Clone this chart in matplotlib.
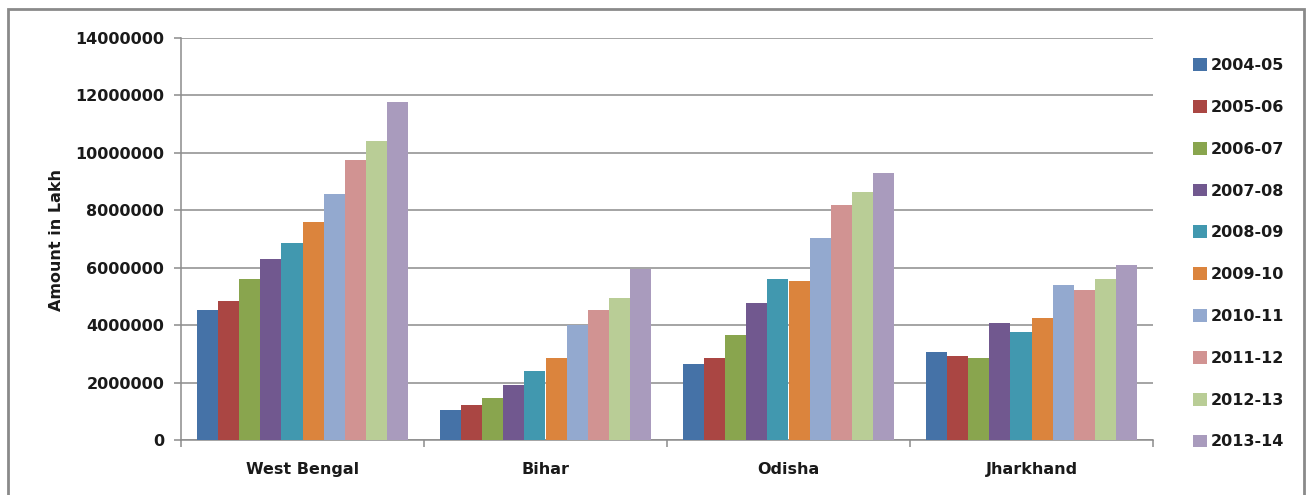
import matplotlib.pyplot as plt
from matplotlib.patches import Rectangle, Patch
import numpy as np

states = ["West Bengal", "Bihar", "Odisha", "Jharkhand"]
years = ["2004-05", "2005-06", "2006-07", "2007-08", "2008-09",
         "2009-10", "2010-11", "2011-12", "2012-13", "2013-14"]

# amount in lakh, one list per year: [West Bengal, Bihar, Odisha, Jharkhand]
y2004_05 = [4520000, 1040000, 2650000, 3080000]
y2005_06 = [4830000, 1220000, 2870000, 2910000]
y2006_07 = [5620000, 1480000, 3670000, 2850000]
y2007_08 = [6290000, 1930000, 4780000, 4070000]
y2008_09 = [6870000, 2410000, 5590000, 3760000]
y2009_10 = [7580000, 2870000, 5540000, 4260000]
y2010_11 = [8570000, 4010000, 7020000, 5410000]
y2011_12 = [9740000, 4510000, 8180000, 5230000]
y2012_13 = [10400000, 4950000, 8620000, 5590000]
y2013_14 = [11780000, 5960000, 9300000, 6080000]

series = [y2004_05, y2005_06, y2006_07, y2007_08, y2008_09,
          y2009_10, y2010_11, y2011_12, y2012_13, y2013_14]

colors = ["#4572A7", "#AA4643", "#89A54E", "#71588F", "#4198AF",
          "#DB843D", "#93A9CF", "#D19392", "#B9CD96", "#A99BBD"]

W, H = 1308, 495
fig = plt.figure(figsize=(W / 100, H / 100), dpi=100)
ax = fig.add_axes([181 / W, 1 - 440 / H, (1153 - 181) / W, (440 - 38) / H])

txt = "#1a1a1a"
grid_c = "#8c8c8c"
fs = 11.5

x = np.arange(len(states))
bw = 1 / 11.5
for i, vals in enumerate(series):
    ax.bar(x + (i - 4.5) * bw, vals, width=bw, color=colors[i], zorder=3,
           edgecolor="none")

ax.set_xlim(-0.5, len(states) - 0.5)
ax.set_ylim(0, 14000000)
ax.set_yticks(np.arange(0, 14000001, 2000000))
ax.set_yticklabels([str(v) for v in range(0, 14000001, 2000000)],
                   fontsize=fs, fontweight="bold", color=txt)
ax.yaxis.grid(True, color=grid_c, linewidth=1.1, zorder=0)

ax.set_xticks(np.arange(-0.5, len(states), 1.0))
ax.set_xticklabels([])
ax.set_xticks(x, minor=True)
ax.set_xticklabels(states, minor=True, fontsize=fs, fontweight="bold", color=txt)
ax.tick_params(axis="x", which="minor", length=0, pad=16)
ax.tick_params(axis="x", which="major", length=5, color=grid_c, width=1.1)
ax.tick_params(axis="y", length=5, color=grid_c, width=1.1, pad=7)

for side in ["top", "right"]:
    ax.spines[side].set_visible(False)
for side in ["left", "bottom"]:
    ax.spines[side].set_color(grid_c)
    ax.spines[side].set_linewidth(1.1)

fig.text(57 / W, 1 - 240 / H, "Amount in Lakh", rotation=90, ha="center",
         va="center", fontsize=fs, fontweight="bold", color=txt)

handles = [Patch(facecolor=c, edgecolor="none") for c in colors]
fig.legend(handles, years, loc="upper left",
           bbox_to_anchor=(1193 / W, 1 - 58 / H), frameon=False,
           prop={"weight": "bold", "size": fs},
           handlelength=0.85, handleheight=0.85, handletextpad=0.25,
           labelspacing=1.68, borderpad=0, borderaxespad=0, labelcolor=txt)

fig.add_artist(Rectangle((8 / W, -0.02), (1304 - 8) / W, 1 - 9 / H + 0.02,
                         transform=fig.transFigure, fill=False,
                         edgecolor="#8a8a8a", linewidth=2))

fig.savefig("out.png", dpi=100)
